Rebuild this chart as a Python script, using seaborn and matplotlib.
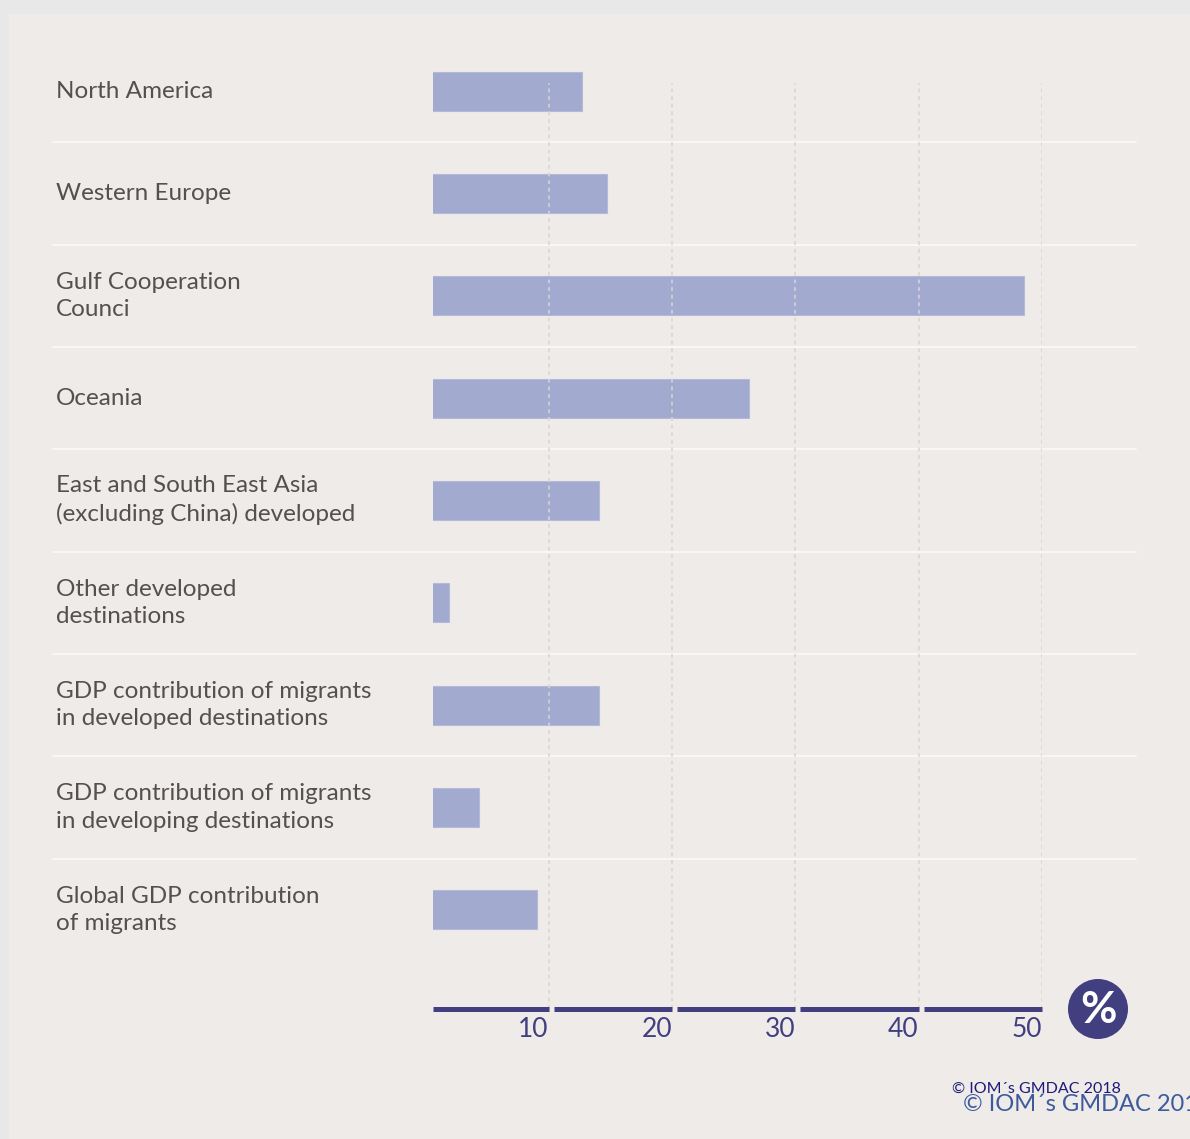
import matplotlib
matplotlib.use("Agg")
import matplotlib.pyplot as plt
import matplotlib.patches as mpatches
import matplotlib.transforms as mtransforms
import pandas as pd
import seaborn as sns

# data
regions = [
    "North America",
    "Western Europe",
    "Gulf Cooperation\nCounci",
    "Oceania",
    "East and South East Asia\n(excluding China) developed",
    "Other developed\ndestinations",
    "GDP contribution of migrants\nin developed destinations",
    "GDP contribution of migrants\nin developing destinations",
    "Global GDP contribution\nof migrants",
]
share_pct = [12.7, 14.7, 48.5, 26.2, 14.1, 1.9, 14.1, 4.3, 9.0]
tick_values = [10, 20, 30, 40, 50]

BG = "#efebe8"
OUTER = "#e8e8e8"
BAR = "#a3aacf"
NAVY = "#413f80"
TEXT = "#555050"

sns.set_theme(style="white")
plt.rcParams["font.family"] = ["Lato", "DejaVu Sans"]

W, H = 1190, 1139
fig = plt.figure(figsize=(W / 100, H / 100), dpi=100)
fig.patch.set_facecolor(OUTER)
fig.patches.append(mpatches.Rectangle((9 / W, 0), 1, 1 - 14 / H, transform=fig.transFigure,
                                      facecolor=BG, edgecolor="none", zorder=-10))

ax = fig.add_axes([433 / W, 1 - 1009 / H, (1042 - 433) / W, (1009 - 83) / H])
ax.set_facecolor("none")

df = pd.DataFrame({"region": regions, "share": share_pct})
sns.barplot(data=df, y="region", x="share", orient="h", color=BAR, width=0.38,
            edgecolor="#b4bad9", linewidth=0.8, saturation=1, ax=ax, zorder=2)

xmin, xmax = 0.6, 50
ax.set_xlim(xmin, xmax)
ax.set_ylim(len(regions) - 1 + 0.97, -0.08)

# let the first bar poke above the axes top, but keep the left edge clipped
clip = mtransforms.TransformedBbox(
    mtransforms.Bbox([[xmin, -1], [xmax + 5, len(regions) + 1]]), ax.transData)
for p in ax.patches:
    p.set_clip_box(clip)

# dashed vertical gridlines, drawn on top of bars
for t in tick_values:
    ax.axvline(t, color="#d9d4d4", linestyle=(0, (2.5, 2.5)), linewidth=1.1, zorder=3)

# thin white row separators spanning the label column as well
x0 = (53 - 433) / (1042 - 433)
x1 = (1136 - 433) / (1042 - 433)
for i in range(len(regions) - 1):
    ax.axhline(i + 0.5, xmin=x0, xmax=x1, color="#fbf9f8", linewidth=1.3,
               clip_on=False, zorder=1)

# segmented axis line
ybase = ax.get_ylim()[0]
gap = 0.4
starts = [xmin] + [t + gap for t in tick_values[:-1]]
for s, e in zip(starts, tick_values):
    ax.hlines(ybase, s, e, color=NAVY, linewidth=3.6, clip_on=False, zorder=4)

ax.set_xticks(tick_values)
ax.set_xticklabels([str(t) for t in tick_values])
for lab in ax.get_xticklabels():
    lab.set_horizontalalignment("right")
ax.tick_params(axis="x", length=0, pad=6, labelsize=19, labelcolor=NAVY)

ax.set_yticks([])
ax.set_xlabel("")
ax.set_ylabel("")
sns.despine(ax=ax, left=True, bottom=True)

# category labels, left aligned in the label column
label_trans = mtransforms.blended_transform_factory(fig.transFigure, ax.transData)
for i, name in enumerate(regions):
    ax.text(56 / W, i, name, transform=label_trans, ha="left", va="center",
            fontsize=17.5, color=TEXT, linespacing=1.38)

# percent badge
fig.patches.append(mpatches.Ellipse((1098 / W, 1 - 1009 / H), 60 / W, 60 / H,
                                    transform=fig.transFigure, facecolor=NAVY,
                                    edgecolor="none", zorder=5))
fig.text(1099 / W, 1 - 1010 / H, "%", ha="center", va="center", color="white",
         fontsize=32, fontweight="bold", zorder=6)

fig.text(952 / W, 1 - 1093 / H, "© IOM´s GMDAC 2018", ha="left", va="baseline",
         fontsize=11.5, color="#1d1b7a")
fig.text(963 / W, 1 - 1111 / H, "© IOM´s GMDAC 2018", ha="left", va="baseline",
         fontsize=17, color="#3c5a9c")

fig.savefig("out.png", dpi=100, facecolor=fig.get_facecolor())
